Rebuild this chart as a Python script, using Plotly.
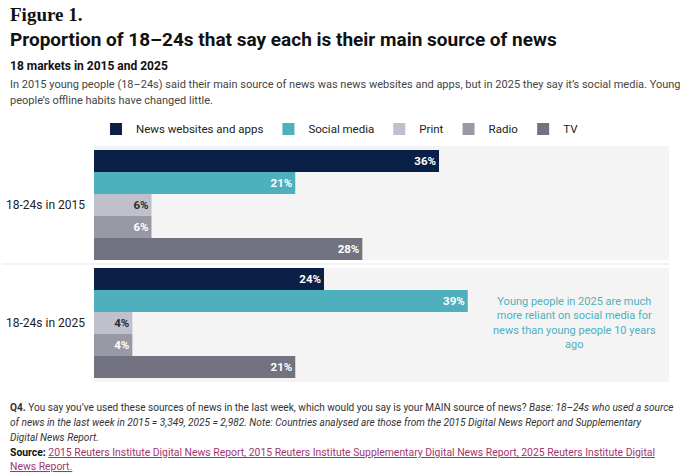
import plotly.graph_objects as go

groups = ["18-24s in 2015", "18-24s in 2025"]
sources = ["News websites and apps", "Social media", "Print", "Radio", "TV"]
values = {
    "News websites and apps": [36, 24],
    "Social media": [21, 39],
    "Print": [6, 4],
    "Radio": [6, 4],
    "TV": [28, 21],
}
colors = ["#0b2046", "#4eb0bd", "#c0c0cc", "#9999a5", "#727281"]
label_colors = ["white", "white", "#2b2b35", "white", "white"]

FONT = "Roboto"
LINK = "#a3346f"

fig = go.Figure()
for src, col, lc in zip(sources, colors, label_colors):
    fig.add_trace(go.Bar(
        y=groups, x=values[src], name=src, orientation="h",
        marker=dict(color=col, line=dict(width=0)),
        text=[f"{v}%" for v in values[src]],
        textposition="inside", insidetextanchor="end",
        textfont=dict(color=lc, size=11.5, family=FONT, weight="bold"),
        constraintext="none",
    ))

# white gap + thin line between the two groups
fig.add_shape(type="rect", xref="paper", x0=0, x1=1, y0=0.466, y1=0.534,
              fillcolor="white", line_width=0, layer="below")
fig.add_shape(type="line", xref="paper", x0=-0.16, x1=1, y0=0.5, y1=0.5,
              line=dict(color="#e6e6e6", width=1), layer="below")

fig.update_layout(
    width=680, height=474,
    margin=dict(l=94, r=11, t=146, b=92, autoexpand=False),
    barmode="group", bargap=0.068, bargroupgap=0,
    plot_bgcolor="#f4f4f4", paper_bgcolor="white",
    font=dict(family=FONT, size=12, color="#222"),
    xaxis=dict(range=[0, 60], visible=False, fixedrange=True, automargin=False),
    yaxis=dict(autorange="reversed", showgrid=False, ticks="", ticklabelstandoff=8,
               automargin=False, fixedrange=True, tickfont=dict(size=12, color="#222")),
    legend=dict(orientation="h", xref="container", x=0.5, xanchor="center",
                yref="container", y=0.728, yanchor="middle",
                font=dict(size=11.5, color="#222"), itemwidth=30,
                traceorder="normal", tracegroupgap=0),
    showlegend=True,
)

fig.add_annotation(text="Young people in 2025 are much<br>more reliant on social media for<br>news than young people 10 years<br>ago",
                   xref="paper", yref="y", x=0.835, xanchor="center", y=1.0, yanchor="middle",
                   showarrow=False, font=dict(color="#4eb0bd", size=11), align="center")

# header and footer lines: (text, y pixel from top, size, color, family)
annots = [
    ("<b>Figure 1.</b>", 14, 19, "#111", "Liberation Serif"),
    ("<b>Proportion of 18–24s that say each is their main source of news</b>", 39, 19, "#111", FONT),
    ("<b>18 markets in 2015 and 2025</b>", 66, 12, "#111", FONT),
    ("In 2015 young people (18–24s) said their main source of news was news websites and apps, but in 2025 they say it’s social media. Young", 84, 11, "#444", FONT),
    ("people’s offline habits have changed little.", 100, 11, "#444", FONT),
    ("<b>Q4.</b> You say you’ve used these sources of news in the last week, which would you say is your MAIN source of news? <i>Base: 18–24s who used a source</i>", 407, 10.1, "#333", FONT),
    ("<i>of news in the last week in 2015 = 3,349, 2025 = 2,982. Note: Countries analysed are those from the 2015 Digital News Report and Supplementary</i>", 422, 10.1, "#333", FONT),
    ("<i>Digital News Report.</i>", 437, 10.1, "#333", FONT),
    (f"<b>Source:</b> <span style='color:{LINK}'><u>2015 Reuters Institute Digital News Report, 2015 Reuters Institute Supplementary Digital News Report, 2025 Reuters Institute Digital</u></span>", 452, 10.4, "#111", FONT),
    (f"<span style='color:{LINK}'><u>News Report.</u></span>", 466, 10.4, "#111", FONT),
]
for text, ypx, size, color, family in annots:
    fig.add_annotation(text=text, xref="paper", yref="paper", x=0, xanchor="left",
                       xshift=-94 + 8, y=1 - (ypx - 146) / 236, yanchor="middle",
                       showarrow=False, align="left",
                       font=dict(size=size, color=color, family=family))

fig.write_html("out.html", config={"displayModeBar": False},
               post_script="document.body.style.margin='0';")
